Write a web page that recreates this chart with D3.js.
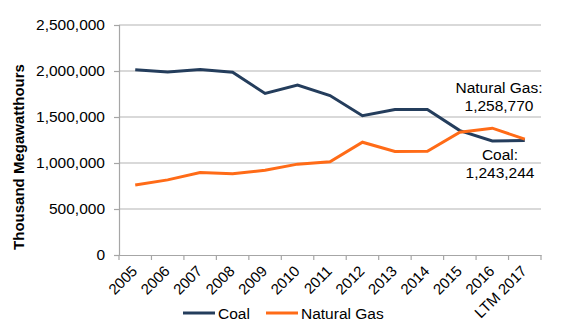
<!DOCTYPE html>
<html>
<head>
<meta charset="utf-8">
<script src="https://cdn.jsdelivr.net/npm/d3@7"></script>
<style>
  body { margin: 0; background: #fff; }
  svg { font-family: "Liberation Sans", Arial, sans-serif; }
</style>
</head>
<body>
<svg id="chart" width="562" height="336"></svg>
<script>
const years = ["2005","2006","2007","2008","2009","2010","2011","2012","2013","2014","2015","2016","LTM 2017"];
const coal = [2012873,1990511,2016456,1985801,1755904,1847290,1733430,1514043,1581115,1581710,1352398,1239149,1243244];
const gas = [760960,816441,896590,882981,920979,987697,1013689,1225894,1124836,1126609,1333482,1378307,1258770];
const yTicks = [0,500000,1000000,1500000,2000000,2500000];

const svg = d3.select("#chart");
const plotL = 119, plotR = 541, plotT = 25, plotB = 255;

const x = d3.scaleBand().domain(years).range([plotL, plotR]);
const y = d3.scaleLinear().domain([0, 2500000]).range([plotB, plotT]);

// grid
svg.append("g").selectAll("line").data(yTicks.slice(1)).join("line")
  .attr("x1", plotL).attr("x2", plotR)
  .attr("y1", d => y(d)).attr("y2", d => y(d))
  .attr("stroke", "#b3b3b3").attr("stroke-width", 1.2);

// y axis
const ya = svg.append("g").attr("transform", `translate(${plotL},0)`)
  .call(d3.axisLeft(y).tickValues(yTicks).tickSize(5).tickPadding(9).tickFormat(d3.format(",")));
ya.select(".domain").attr("stroke", "#a6a6a6").attr("stroke-width", 1.2);
ya.selectAll(".tick line").attr("stroke", "#a6a6a6").attr("stroke-width", 1.2);
ya.selectAll("text").attr("font-size", 15.5).attr("fill", "#000").style("font-family", "Liberation Sans, Arial");

// x axis
const xa = svg.append("g").attr("transform", `translate(0,${plotB})`)
  .call(d3.axisBottom(x).tickSize(0).tickFormat(d => d));
xa.select(".domain").attr("stroke", "#a6a6a6").attr("stroke-width", 1.2);
xa.selectAll(".tick text")
  .attr("font-size", 15).attr("fill", "#000").style("font-family", "Liberation Sans, Arial")
  .attr("text-anchor", "end")
  .attr("dy", null).attr("y", 0)
  .attr("transform", "translate(3,17) rotate(-45)");
// band boundary ticks
svg.append("g").selectAll("line").data(years.concat(["_end"])).join("line")
  .attr("x1", (d, i) => plotL + i * x.step()).attr("x2", (d, i) => plotL + i * x.step())
  .attr("y1", plotB).attr("y2", plotB + 5)
  .attr("stroke", "#a6a6a6").attr("stroke-width", 1.2);

// y label
svg.append("text")
  .attr("transform", "translate(24,157) rotate(-90)")
  .attr("text-anchor", "middle")
  .attr("font-size", 15).attr("font-weight", "bold")
  .text("Thousand Megawatthours");

const line = d3.line().x((d, i) => x(years[i]) + x.bandwidth() / 2).y(d => y(d));
const series = [
  { name: "Coal", values: coal, color: "#243d5c" },
  { name: "Natural Gas", values: gas, color: "#ff6b17" }
];
svg.append("g").selectAll("path").data(series).join("path")
  .attr("d", d => line(d.values))
  .attr("fill", "none").attr("stroke", d => d.color).attr("stroke-width", 3);

// annotations
const fmt = d3.format(",");
const ann = svg.append("g").attr("font-size", 15.5).attr("text-anchor", "middle");
ann.append("text").attr("x", 499).attr("y", 93).text("Natural Gas:");
ann.append("text").attr("x", 499).attr("y", 111).text(fmt(gas[gas.length - 1]));
ann.append("text").attr("x", 500).attr("y", 160).text("Coal:");
ann.append("text").attr("x", 500).attr("y", 178).text(fmt(coal[coal.length - 1]));

// legend
const lg = svg.append("g");
const lx = [183, 266];
series.forEach((s, i) => {
  lg.append("line").attr("x1", lx[i]).attr("x2", lx[i] + 32).attr("y1", 313).attr("y2", 313)
    .attr("stroke", s.color).attr("stroke-width", 3);
  lg.append("text").attr("x", lx[i] + 35).attr("y", 319).attr("font-size", 15.5).text(s.name);
});
</script>
</body>
</html>
